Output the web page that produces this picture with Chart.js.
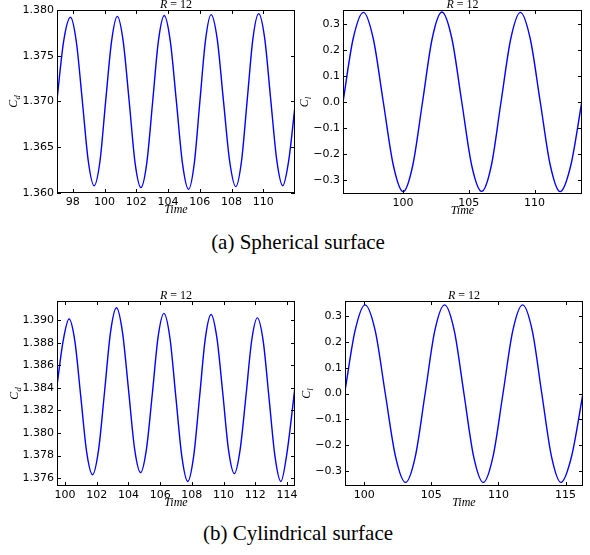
<!DOCTYPE html>
<html>
<head>
<meta charset="utf-8">
<script src="https://cdn.jsdelivr.net/npm/chart.js@4"></script>
<style>
  body { margin: 0; background: #fff; width: 590px; height: 555px; position: relative; overflow: hidden; }
  canvas { position: absolute; }
  .caption { position: absolute; left: 3px; width: 590px; text-align: center; line-height: 21px;
             font-family: "Liberation Serif", "Times New Roman", serif; font-size: 21px; color: #000; }
</style>
</head>
<body>
<canvas id="sph-cd" width="300" height="225" style="left:0;top:0"></canvas>
<canvas id="sph-cl" width="295" height="225" style="left:295px;top:0"></canvas>
<canvas id="cyl-cd" width="300" height="225" style="left:0;top:285px"></canvas>
<canvas id="cyl-cl" width="295" height="225" style="left:295px;top:285px"></canvas>
<div class="caption" style="top:232px">(a) Spherical surface</div>
<div class="caption" style="top:523px">(b) Cylindrical surface</div>
<script>
// Cd / Cl time histories, R = 12

// (a) spherical surface - drag
const sphCdTime = [97.00, 97.42, 97.85, 98.22, 98.60, 98.97, 99.34, 99.71, 100.07, 100.44, 100.80,
  101.17, 101.55, 101.92, 102.29, 102.66, 103.03, 103.39, 103.76, 104.14, 104.53, 104.91, 105.29,
  105.65, 106.00, 106.36, 106.71, 107.10, 107.49, 107.88, 108.27, 108.63, 108.99, 109.35, 109.71,
  110.09, 110.47, 110.85, 111.23, 111.60, 112.00];
const sphCdValue = [1.3702, 1.3766, 1.3792, 1.3765, 1.3700, 1.3635, 1.3608, 1.3635, 1.3701, 1.3766, 1.3793,
  1.3766, 1.3700, 1.3633, 1.3606, 1.3633, 1.3700, 1.3766, 1.3794, 1.3766, 1.3699, 1.3632, 1.3604,
  1.3632, 1.3699, 1.3767, 1.3795, 1.3768, 1.3701, 1.3635, 1.3607, 1.3635, 1.3702, 1.3769, 1.3796,
  1.3769, 1.3702, 1.3636, 1.3608, 1.3635, 1.3695];
const sphCdXTicks = [98, 100, 102, 104, 106, 108, 110];
const sphCdYTicks = [1.360, 1.365, 1.370, 1.375, 1.380];

// (a) spherical surface - lift
const sphClTime = [95.45, 96.22, 97.00, 97.75, 98.51, 99.27, 100.02, 100.75, 101.49, 102.22, 102.96,
  103.72, 104.47, 105.22, 105.98, 106.72, 107.45, 108.19, 108.92, 109.67, 110.43, 111.19, 111.94,
  112.75, 113.60];
const sphClValue = [0.0, 0.244, 0.346, 0.244, 0.0, -0.244, -0.346, -0.244, 0.0, 0.244, 0.347,
  0.244, 0.0, -0.244, -0.345, -0.244, 0.0, 0.244, 0.346, 0.244, 0.0, -0.244, -0.346,
  -0.244, 0.005];
const sphClXTicks = [100, 105, 110];
const clYTicks = [-0.3, -0.2, -0.1, 0.0, 0.1, 0.2, 0.3];

// (b) cylindrical surface - drag
const cylCdTime = [99.50, 99.88, 100.26, 100.63, 101.00, 101.37, 101.74, 102.12, 102.50, 102.87, 103.25,
  103.63, 104.01, 104.39, 104.77, 105.14, 105.51, 105.87, 106.24, 106.62, 106.99, 107.37, 107.74,
  108.11, 108.48, 108.84, 109.21, 109.58, 109.95, 110.31, 110.68, 111.04, 111.41, 111.77, 112.13,
  112.50, 112.87, 113.24, 113.61, 113.98, 114.50];
const cylCdValue = [1.3842, 1.3881, 1.3901, 1.3881, 1.3832, 1.3783, 1.3763, 1.3785, 1.3837, 1.3889, 1.3911,
  1.3889, 1.3838, 1.3786, 1.3765, 1.3786, 1.3835, 1.3885, 1.3906, 1.3884, 1.3832, 1.3779, 1.3757,
  1.3779, 1.3831, 1.3883, 1.3905, 1.3884, 1.3835, 1.3785, 1.3764, 1.3785, 1.3833, 1.3882, 1.3902,
  1.3881, 1.3830, 1.3779, 1.3757, 1.3781, 1.3841];
const cylCdXTicks = [100, 102, 104, 106, 108, 110, 112, 114];
const cylCdYTicks = [1.376, 1.378, 1.380, 1.382, 1.384, 1.386, 1.388, 1.390];

// (b) cylindrical surface - lift
const cylClTime = [98.57, 99.32, 100.06, 100.82, 101.57, 102.33, 103.08, 103.81, 104.54, 105.26, 105.99,
  106.71, 107.43, 108.15, 108.87, 109.60, 110.34, 111.07, 111.80, 112.52, 113.23, 113.95, 114.66,
  115.45, 116.30];
const cylClValue = [0.01, 0.243, 0.343, 0.243, 0.0, -0.243, -0.344, -0.243, 0.0, 0.243, 0.343,
  0.243, 0.0, -0.243, -0.344, -0.243, 0.0, 0.243, 0.343, 0.243, 0.0, -0.243, -0.344,
  -0.243, 0.0];
const cylClXTicks = [100, 105, 110, 115];

const tickFont = { family: '"DejaVu Sans", sans-serif', size: 11 };
const cdFmt = v => v.toFixed(3);
const clFmt = v => v.toFixed(1).replace('-', '\u2212');

// matplotlib-like frame: box, inward ticks on all sides, title and axis labels
const mplFrame = {
  id: 'mplFrame',
  afterDraw(chart, args, opts) {
    const { ctx, chartArea: a, scales: { x, y } } = chart;
    ctx.save();
    ctx.strokeStyle = '#000';
    ctx.lineWidth = 1;
    ctx.beginPath();
    x.ticks.forEach(t => {
      const px = Math.round(x.getPixelForValue(t.value)) + 0.5;
      ctx.moveTo(px, a.bottom); ctx.lineTo(px, a.bottom - 4);
      ctx.moveTo(px, a.top); ctx.lineTo(px, a.top + 4);
    });
    y.ticks.forEach(t => {
      const py = Math.round(y.getPixelForValue(t.value)) + 0.5;
      ctx.moveTo(a.left, py); ctx.lineTo(a.left + 4, py);
      ctx.moveTo(a.right, py); ctx.lineTo(a.right - 4, py);
    });
    ctx.stroke();
    ctx.strokeRect(a.left + 0.5, a.top + 0.5, a.right - a.left - 1, a.bottom - a.top - 1);

    const it = 'italic 12px "Liberation Serif", serif';
    const up = '12px "Liberation Serif", serif';
    const cx = (a.left + a.right) / 2;
    ctx.fillStyle = '#000';
    ctx.textBaseline = 'alphabetic';

    // title  R = 12
    const parts = [[it, 'R', 3], [up, '=', 3], [up, '12', 0]];
    let w = 0;
    parts.forEach(p => { ctx.font = p[0]; w += ctx.measureText(p[1]).width + p[2]; });
    let tx = cx - w / 2;
    ctx.textAlign = 'left';
    parts.forEach(p => { ctx.font = p[0]; ctx.fillText(p[1], tx, a.top - 2); tx += ctx.measureText(p[1]).width + p[2]; });

    // x label
    ctx.font = it;
    ctx.textAlign = 'center';
    ctx.fillText('Time', cx, a.bottom + 20);

    // y label C_d / C_l
    ctx.translate(a.left - opts.gap, (a.top + a.bottom) / 2);
    ctx.rotate(-Math.PI / 2);
    ctx.textAlign = 'left';
    ctx.font = it;
    const wc = ctx.measureText('C').width;
    const subFont = 'italic 8.5px "Liberation Serif", serif';
    ctx.font = subFont;
    const ws = ctx.measureText(opts.sub).width;
    const x0 = -(wc + ws) / 2;
    ctx.font = it;
    ctx.fillText('C', x0, 0);
    ctx.font = subFont;
    ctx.fillText(opts.sub, x0 + wc, 3);
    ctx.restore();
  }
};

function drawPanel(id, p) {
  new Chart(document.getElementById(id), {
    type: 'line',
    data: {
      datasets: [{
        data: p.time.map((t, i) => ({ x: t, y: p.value[i] })),
        borderColor: '#0000ff',
        borderWidth: 1.4,
        pointRadius: 0,
        cubicInterpolationMode: 'monotone',
        fill: false
      }]
    },
    options: {
      responsive: false,
      animation: false,
      events: [],
      layout: { padding: { top: p.top, right: p.right, left: 0, bottom: 0 } },
      plugins: {
        legend: { display: false },
        tooltip: { enabled: false },
        mplFrame: { sub: p.sub, gap: p.gap }
      },
      scales: {
        x: {
          type: 'linear', min: p.xMin, max: p.xMax,
          grid: { display: false, drawTicks: false },
          border: { display: false },
          afterBuildTicks: s => { s.ticks = p.xTicks.map(v => ({ value: v })); },
          afterFit: s => { s.height = p.bottom; s.paddingLeft = 0; s.paddingRight = 0; },
          ticks: { autoSkip: false, maxRotation: 0, padding: 3, color: '#000', font: tickFont,
                   callback: v => String(v) }
        },
        y: {
          type: 'linear', min: p.yMin, max: p.yMax,
          grid: { display: false, drawTicks: false },
          border: { display: false },
          afterBuildTicks: s => { s.ticks = p.yTicks.map(v => ({ value: v })); },
          afterFit: s => { s.width = p.left; s.paddingTop = 0; s.paddingBottom = 0; },
          ticks: { autoSkip: false, padding: 3, color: '#000', font: tickFont, callback: p.fmt }
        }
      }
    },
    plugins: [mplFrame]
  });
}

drawPanel('sph-cd', { time: sphCdTime, value: sphCdValue, xMin: 97.0, xMax: 112.0, yMin: 1.360, yMax: 1.380,
  xTicks: sphCdXTicks, yTicks: sphCdYTicks, fmt: cdFmt, sub: 'd', gap: 40,
  left: 57, right: 5, top: 10, bottom: 32 });
drawPanel('sph-cl', { time: sphClTime, value: sphClValue, xMin: 95.45, xMax: 113.6, yMin: -0.355, yMax: 0.355,
  xTicks: sphClXTicks, yTicks: clYTicks, fmt: clFmt, sub: 'l', gap: 35,
  left: 48, right: 8, top: 10, bottom: 31 });
drawPanel('cyl-cd', { time: cylCdTime, value: cylCdValue, xMin: 99.5, xMax: 114.5, yMin: 1.3753, yMax: 1.3917,
  xTicks: cylCdXTicks, yTicks: cylCdYTicks, fmt: cdFmt, sub: 'd', gap: 39,
  left: 57, right: 5, top: 16, bottom: 24 });
drawPanel('cyl-cl', { time: cylClTime, value: cylClValue, xMin: 98.57, xMax: 116.3, yMin: -0.358, yMax: 0.358,
  xTicks: cylClXTicks, yTicks: clYTicks, fmt: clFmt, sub: 'l', gap: 35,
  left: 50, right: 7, top: 16, bottom: 24 });
</script>
</body>
</html>
